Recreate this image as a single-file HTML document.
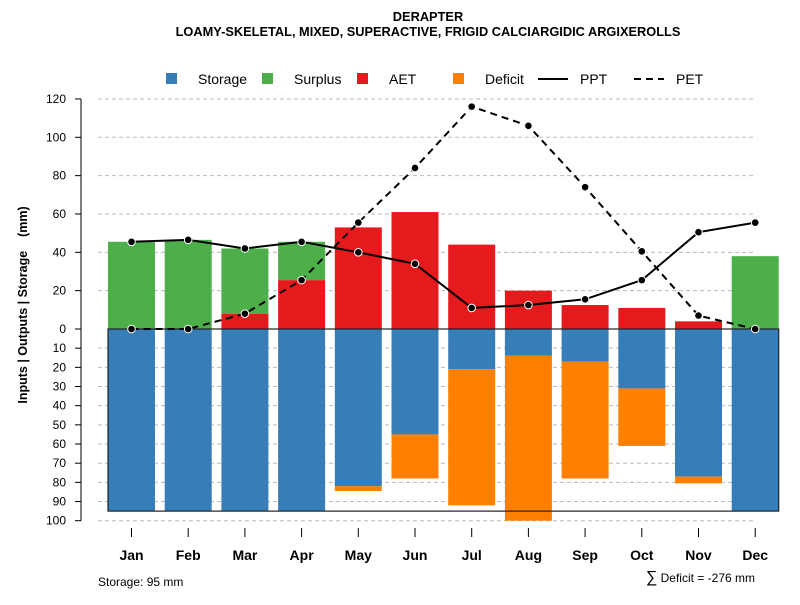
<!DOCTYPE html>
<html><head><meta charset="utf-8"><style>
body{margin:0;background:#fff;font-family:"Liberation Sans",sans-serif}
svg text{font-family:"Liberation Sans",sans-serif}
</style></head><body>
<svg id="c" width="800" height="600" xmlns="http://www.w3.org/2000/svg">
<text x="428" y="21" text-anchor="middle" font-size="12.8" font-weight="bold">DERAPTER</text>
<text x="428" y="36" text-anchor="middle" font-size="12.8" font-weight="bold">LOAMY-SKELETAL, MIXED, SUPERACTIVE, FRIGID CALCIARGIDIC ARGIXEROLLS</text>
<g>
<rect x="166" y="73" width="11" height="11" fill="#377eb8"/>
<text x="198" y="84" font-size="14">Storage</text>
<rect x="262" y="73" width="11" height="11" fill="#4daf4a"/>
<text x="294" y="84" font-size="14">Surplus</text>
<rect x="357" y="73" width="11" height="11" fill="#e41a1c"/>
<text x="389" y="84" font-size="14">AET</text>
<rect x="453" y="73" width="11" height="11" fill="#ff7f00"/>
<text x="485" y="84" font-size="14">Deficit</text>
<line x1="538" y1="79" x2="568" y2="79" stroke="#000" stroke-width="2"/>
<text x="580" y="84" font-size="14">PPT</text>
<line x1="634" y1="79" x2="664" y2="79" stroke="#000" stroke-width="2" stroke-dasharray="7,5"/>
<text x="676" y="84" font-size="14">PET</text>
</g>
<text transform="translate(27,305) rotate(-90)" text-anchor="middle" font-size="12.5" font-weight="bold" xml:space="preserve" style="white-space:pre">Inputs | Outputs | Storage    (mm)</text>
<text x="98" y="586" font-size="12">Storage: 95 mm</text>
<text x="755" y="582" text-anchor="end" font-size="12"><tspan font-size="16">∑</tspan> Deficit = -276 mm</text>
<g id="g"></g>
</svg>
<script>
const months=["Jan","Feb","Mar","Apr","May","Jun","Jul","Aug","Sep","Oct","Nov","Dec"];
const storage=[95,95,95,95,82,55,21,14,17,31,77,95];
const deficit=[0,0,0,0,2.5,23,71,86,61,30,3.5,0];
const aet=[0,0,8,25.5,53,61,44,20,12.5,11,4,0];
const surplus=[45.5,46.5,34,20,0,0,0,0,0,0,0,38];
const ppt=[45.5,46.5,42,45.5,40,34,11,12.5,15.5,25.5,50.5,55.5];
const pet=[0,0,8,25.5,55.5,84,116,106,74,40.5,7,0];
const topTicks=[0,20,40,60,80,100,120];
const botTicks=[10,20,30,40,50,60,70,80,90,100];
const SCMAX=95;
const y0=329,k=1.917;
const yUp=v=>y0-v*k, yDn=v=>y0+v*k;
const xc=i=>131.5+i*56.7, bw=47;
const g=document.getElementById('g');const NS="http://www.w3.org/2000/svg";
function el(t,a){const e=document.createElementNS(NS,t);for(const q in a)e.setAttribute(q,a[q]);g.appendChild(e);return e;}
el('line',{x1:81,y1:yUp(120),x2:81,y2:yDn(100),stroke:'#000'});
topTicks.forEach(v=>{const y=yUp(v);
 if(v>0){const l=el('line',{x1:98,y1:y,x2:756,y2:y,stroke:'#bbb','stroke-dasharray':'4,3'});}
 el('line',{x1:75,y1:y,x2:81,y2:y,stroke:'#000'});
 const t=el('text',{x:66,y:y+4,'text-anchor':'end','font-size':12});t.textContent=v;
 });
botTicks.forEach(v=>{const y=yDn(v);
 const l=el('line',{x1:98,y1:y,x2:756,y2:y,stroke:'#bbb','stroke-dasharray':'4,3'});
 el('line',{x1:75,y1:y,x2:81,y2:y,stroke:'#000'});
 const t=el('text',{x:66,y:y+4,'text-anchor':'end','font-size':12});t.textContent=v;
 });
months.forEach((m,i)=>{const x=xc(i)-bw/2;
 function bar(yt,yb,c,n){if(yb-yt<=0)return;const r=el('rect',{x:x,y:yt,width:bw,height:yb-yt,fill:c});}
 bar(y0,yDn(storage[i]),'#377eb8','bar-storage-'+m.toLowerCase());
 bar(yDn(storage[i]),yDn(storage[i]+deficit[i]),'#ff7f00','bar-deficit-'+m.toLowerCase());
 bar(yUp(aet[i]),y0,'#e41a1c','bar-aet-'+m.toLowerCase());
 bar(yUp(aet[i]+surplus[i]),yUp(aet[i]),'#4daf4a','bar-surplus-'+m.toLowerCase());
 el('line',{x1:xc(i),y1:528,x2:xc(i),y2:537,stroke:'#000'});
 const t=el('text',{x:xc(i),y:560,'text-anchor':'middle','font-size':14,'font-weight':'bold'});t.textContent=m;
 });
el('rect',{x:xc(0)-bw/2,y:y0,width:xc(11)+bw/2-(xc(0)-bw/2),height:SCMAX*k,fill:'none',stroke:'#222','stroke-width':1.2});
function series(d,dash,n){const p=el('polyline',{points:d.map((v,i)=>xc(i)+','+yUp(v)).join(' '),fill:'none',stroke:'#000','stroke-width':2,'stroke-dasharray':dash});
 
 d.forEach((v,i)=>{const c=el('circle',{cx:xc(i),cy:yUp(v),r:3.8,fill:'#000',stroke:'#fff','stroke-width':1});});}
series(pet,'7,5','pet');
series(ppt,'none','ppt');
</script>
</body></html>
